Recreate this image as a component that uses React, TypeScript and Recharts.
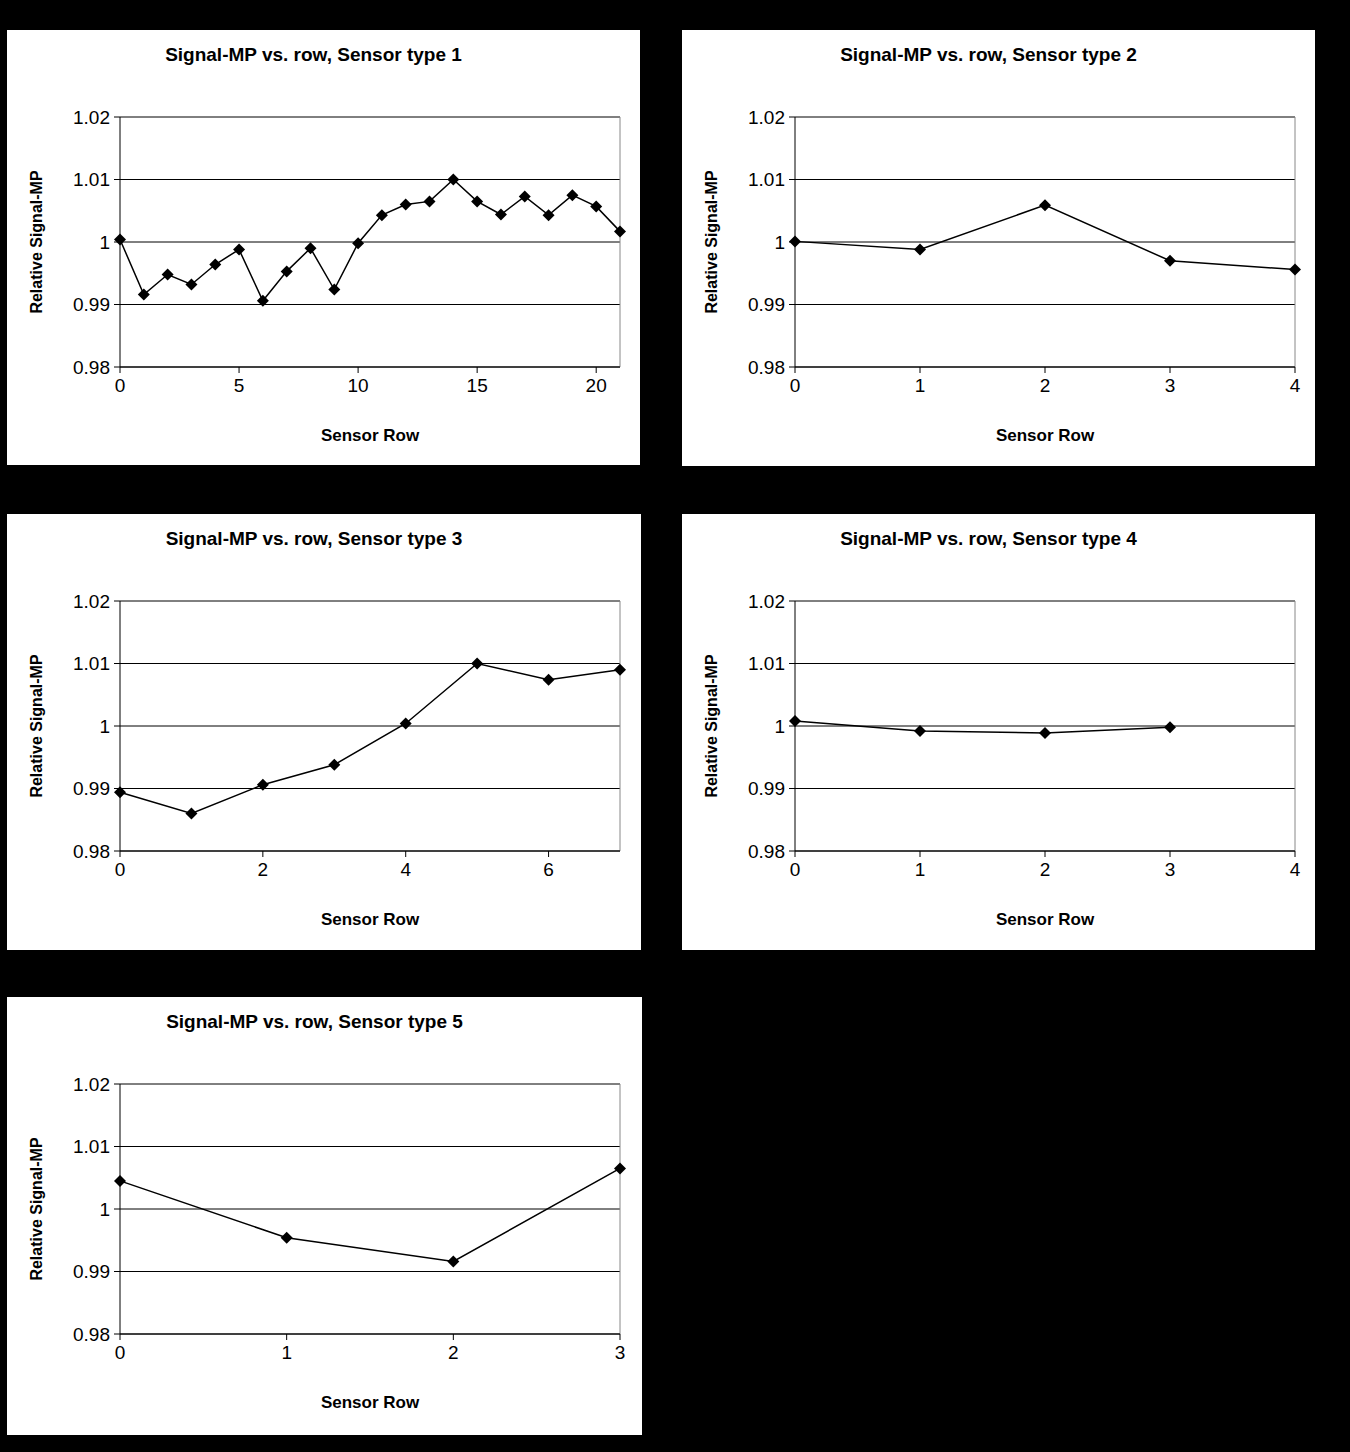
import { LineChart, Line, XAxis, YAxis, CartesianGrid, ReferenceLine } from 'recharts';

const rows1 = [0, 1, 2, 3, 4, 5, 6, 7, 8, 9, 10, 11, 12, 13, 14, 15, 16, 17, 18, 19, 20, 21];
const signal1 = [1.0004, 0.9916, 0.9948, 0.9932, 0.9964, 0.9988, 0.9906, 0.9953, 0.999, 0.9924, 0.9998, 1.0043, 1.006, 1.0065, 1.01, 1.0065, 1.0044, 1.0073, 1.0043, 1.0075, 1.0057, 1.0017];
const rows2 = [0, 1, 2, 3, 4];
const signal2 = [1.0001, 0.9988, 1.0059, 0.997, 0.9956];
const rows3 = [0, 1, 2, 3, 4, 5, 6, 7];
const signal3 = [0.9894, 0.986, 0.9906, 0.9938, 1.0004, 1.01, 1.0074, 1.009];
const rows4 = [0, 1, 2, 3];
const signal4 = [1.0008, 0.9992, 0.9989, 0.9998];
const rows5 = [0, 1, 2, 3];
const signal5 = [1.0045, 0.9954, 0.9916, 1.0065];

const yTicks = [0.98, 0.99, 1, 1.01, 1.02];
const font = '"Liberation Sans", Arial, sans-serif';

const Diamond = (props: any) => {
  const { cx, cy } = props;
  if (cx == null || cy == null) return null;
  const s = 6;
  return <polygon points={`${cx},${cy - s} ${cx + s},${cy} ${cx},${cy + s} ${cx - s},${cy}`} fill="#000" />;
};

type PanelProps = {
  title: string; rows: number[]; values: number[]; xMax: number; xTicks: number[];
  left: number; top: number; width: number; height: number;
};

const Panel = ({ title, rows, values, xMax, xTicks, left, top, width, height }: PanelProps) => {
  const data = rows.map((r, i) => ({ row: r, v: values[i] }));
  return (
    <div style={{ position: 'absolute', left, top, width, height, background: '#fff', fontFamily: font }}>
      <div style={{ position: 'absolute', top: 14, left: 0, width: width - 20, textAlign: 'center', fontWeight: 'bold', fontSize: 19 }}>{title}</div>
      <div style={{ position: 'absolute', left: 30, top: 87 + 125, width: 0, height: 0 }}>
        <div style={{ position: 'absolute', transform: 'translate(-50%,-50%) rotate(-90deg)', whiteSpace: 'nowrap', fontWeight: 'bold', fontSize: 16 }}>Relative Signal-MP</div>
      </div>
      <div style={{ position: 'absolute', top: 396, left: 113, width: 500, textAlign: 'center', fontWeight: 'bold', fontSize: 17 }}>Sensor Row</div>
      <LineChart width={width} height={height} data={data} margin={{ top: 87, right: width - 113 - 500, left: 0, bottom: height - 87 - 250 - 40 }}>
        <CartesianGrid vertical={false} stroke="#000" strokeWidth={1} />
        <ReferenceLine x={xMax} stroke="#888" />
        <XAxis dataKey="row" type="number" domain={[0, xMax]} ticks={xTicks} height={40} stroke="#000" tickSize={6}
          tick={{ fill: '#000', fontSize: 19, fontFamily: font }} tickMargin={6} />
        <YAxis type="number" domain={[0.98, 1.02]} ticks={yTicks} width={113} stroke="#000" tickSize={6}
          tick={{ fill: '#000', fontSize: 19, fontFamily: font }} tickMargin={4} />
        <Line dataKey="v" stroke="#000" strokeWidth={1.5} dot={<Diamond />} isAnimationActive={false} />
      </LineChart>
    </div>
  );
};

export default function App() {
  return (
    <div style={{ position: 'absolute', left: 0, top: 0, width: 1350, height: 1452, background: '#000' }}>
      <Panel title="Signal-MP vs. row, Sensor type 1" rows={rows1} values={signal1} xMax={21} xTicks={[0, 5, 10, 15, 20]} left={7} top={30} width={633} height={435} />
      <Panel title="Signal-MP vs. row, Sensor type 2" rows={rows2} values={signal2} xMax={4} xTicks={[0, 1, 2, 3, 4]} left={682} top={30} width={633} height={436} />
      <Panel title="Signal-MP vs. row, Sensor type 3" rows={rows3} values={signal3} xMax={7} xTicks={[0, 2, 4, 6]} left={7} top={514} width={634} height={436} />
      <Panel title="Signal-MP vs. row, Sensor type 4" rows={rows4} values={signal4} xMax={4} xTicks={[0, 1, 2, 3, 4]} left={682} top={514} width={633} height={436} />
      <Panel title="Signal-MP vs. row, Sensor type 5" rows={rows5} values={signal5} xMax={3} xTicks={[0, 1, 2, 3]} left={7} top={997} width={635} height={438} />
    </div>
  );
}
